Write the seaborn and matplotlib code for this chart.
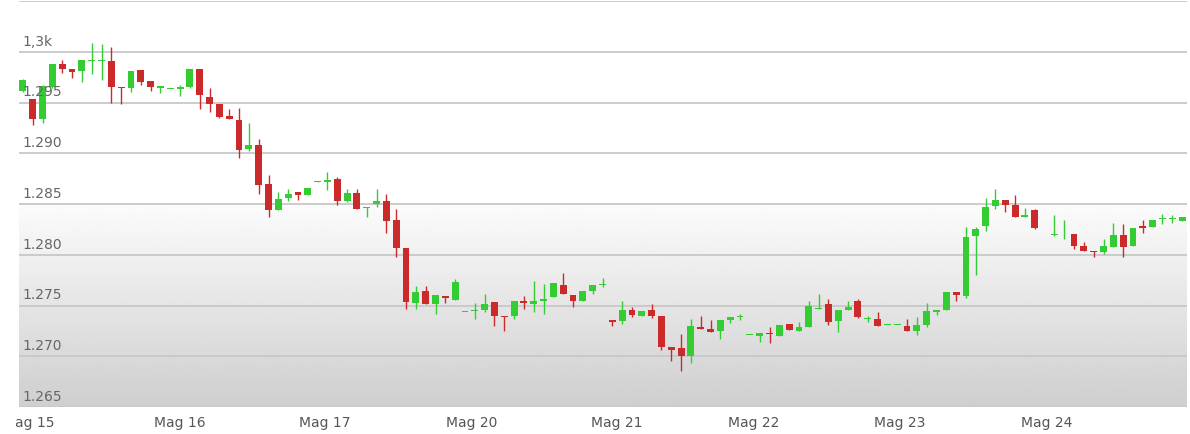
import numpy as np
import pandas as pd
import matplotlib
matplotlib.use("Agg")
import matplotlib.pyplot as plt
import seaborn as sns

# OHLC (candele consecutive)
open_ = [1.2961, 1.2953, 1.2934, 1.2965, 1.2988, 1.2983, 1.2981, 1.2991, 1.2991, 1.2991,
         1.2965, 1.2964, 1.2982, 1.2971, 1.2964, 1.2963, 1.2963, 1.2965, 1.2983, 1.2955,
         1.2949, 1.2937, 1.2933, 1.2904, 1.2908, 1.2870, 1.2844, 1.2856, 1.2862, 1.2859,
         1.2872, 1.2872, 1.2875, 1.2853, 1.2861, 1.2846, 1.2850, 1.2853, 1.2834, 1.2807,
         1.2752, 1.2764, 1.2751, 1.2759, 1.2755, 1.2744, 1.2745, 1.2746, 1.2753, 1.2740,
         1.2740, 1.2754, 1.2751, 1.2754, 1.2758, 1.2770, 1.2760, 1.2754, 1.2764, 1.2770,
         1.2736, 1.2735, 1.2746, 1.2740, 1.2746, 1.2740, 1.2709, 1.2708, 1.2700, 1.2729,
         1.2727, 1.2725, 1.2736, 1.2739, 1.2721, 1.2720, 1.2723, 1.2720, 1.2732, 1.2725,
         1.2729, 1.2747, 1.2751, 1.2735, 1.2746, 1.2754, 1.2737, 1.2737, 1.2731, 1.2731,
         1.2730, 1.2725, 1.2731, 1.2744, 1.2746, 1.2763, 1.2759, 1.2818, 1.2828, 1.2848,
         1.2854, 1.2849, 1.2837, 1.2844, 1.2820, 1.2819, 1.2820, 1.2820, 1.2809, 1.2804,
         1.2803, 1.2808, 1.2819, 1.2809, 1.2828, 1.2827, 1.2835, 1.2835, 1.2833]
close = [1.2972, 1.2934, 1.2966, 1.2988, 1.2983, 1.2980, 1.2992, 1.2991, 1.2992, 1.2965,
         1.2964, 1.2981, 1.2970, 1.2965, 1.2966, 1.2963, 1.2965, 1.2983, 1.2957, 1.2949,
         1.2936, 1.2934, 1.2903, 1.2908, 1.2869, 1.2844, 1.2855, 1.2860, 1.2859, 1.2866,
         1.2873, 1.2874, 1.2853, 1.2861, 1.2845, 1.2847, 1.2853, 1.2833, 1.2807, 1.2753,
         1.2763, 1.2751, 1.2760, 1.2757, 1.2773, 1.2744, 1.2746, 1.2751, 1.2740, 1.2739,
         1.2754, 1.2752, 1.2754, 1.2756, 1.2772, 1.2761, 1.2754, 1.2764, 1.2770, 1.2771,
         1.2734, 1.2746, 1.2741, 1.2745, 1.2740, 1.2709, 1.2706, 1.2700, 1.2730, 1.2727,
         1.2724, 1.2736, 1.2739, 1.2739, 1.2721, 1.2723, 1.2722, 1.2731, 1.2726, 1.2729,
         1.2750, 1.2748, 1.2734, 1.2746, 1.2749, 1.2739, 1.2737, 1.2730, 1.2731, 1.2731,
         1.2725, 1.2731, 1.2745, 1.2746, 1.2763, 1.2760, 1.2817, 1.2825, 1.2847, 1.2854,
         1.2849, 1.2837, 1.2839, 1.2826, 1.2820, 1.2820, 1.2820, 1.2809, 1.2804, 1.2803,
         1.2809, 1.2819, 1.2808, 1.2826, 1.2826, 1.2834, 1.2835, 1.2835, 1.2837]
high = [1.2973, 1.2953, 1.2967, 1.2988, 1.2992, 1.2983, 1.2992, 1.3009, 1.3008, 1.3005,
        1.2965, 1.2981, 1.2982, 1.2971, 1.2966, 1.2963, 1.2967, 1.2983, 1.2983, 1.2964,
        1.2949, 1.2944, 1.2945, 1.2930, 1.2914, 1.2879, 1.2862, 1.2865, 1.2862, 1.2866,
        1.2873, 1.2882, 1.2877, 1.2865, 1.2865, 1.2847, 1.2865, 1.2860, 1.2845, 1.2807,
        1.2769, 1.2769, 1.2760, 1.2759, 1.2776, 1.2744, 1.2752, 1.2761, 1.2753, 1.2740,
        1.2754, 1.2759, 1.2774, 1.2771, 1.2772, 1.2782, 1.2760, 1.2764, 1.2770, 1.2777,
        1.2736, 1.2754, 1.2749, 1.2745, 1.2751, 1.2740, 1.2709, 1.2722, 1.2737, 1.2740,
        1.2736, 1.2736, 1.2739, 1.2742, 1.2721, 1.2723, 1.2729, 1.2731, 1.2732, 1.2734,
        1.2754, 1.2761, 1.2756, 1.2746, 1.2754, 1.2756, 1.2740, 1.2744, 1.2731, 1.2731,
        1.2737, 1.2739, 1.2752, 1.2746, 1.2763, 1.2763, 1.2827, 1.2827, 1.2856, 1.2865,
        1.2854, 1.2859, 1.2846, 1.2845, 1.2820, 1.2839, 1.2834, 1.2820, 1.2813, 1.2804,
        1.2816, 1.2831, 1.2830, 1.2826, 1.2834, 1.2834, 1.2840, 1.2839, 1.2837]
low = [1.2960, 1.2928, 1.2930, 1.2964, 1.2979, 1.2974, 1.2970, 1.2978, 1.2972, 1.2950,
       1.2949, 1.2960, 1.2967, 1.2961, 1.2959, 1.2963, 1.2956, 1.2964, 1.2944, 1.2941,
       1.2935, 1.2934, 1.2895, 1.2902, 1.2860, 1.2837, 1.2844, 1.2853, 1.2854, 1.2859,
       1.2872, 1.2864, 1.2849, 1.2852, 1.2845, 1.2837, 1.2847, 1.2821, 1.2798, 1.2747,
       1.2747, 1.2751, 1.2742, 1.2752, 1.2755, 1.2744, 1.2737, 1.2744, 1.2730, 1.2725,
       1.2737, 1.2747, 1.2744, 1.2742, 1.2758, 1.2761, 1.2749, 1.2754, 1.2761, 1.2768,
       1.2730, 1.2732, 1.2739, 1.2740, 1.2738, 1.2706, 1.2695, 1.2685, 1.2693, 1.2727,
       1.2724, 1.2717, 1.2733, 1.2736, 1.2721, 1.2714, 1.2713, 1.2720, 1.2726, 1.2725,
       1.2729, 1.2747, 1.2731, 1.2724, 1.2746, 1.2738, 1.2734, 1.2730, 1.2731, 1.2731,
       1.2725, 1.2721, 1.2729, 1.2741, 1.2746, 1.2754, 1.2757, 1.2780, 1.2823, 1.2845,
       1.2842, 1.2837, 1.2837, 1.2825, 1.2820, 1.2818, 1.2816, 1.2806, 1.2804, 1.2798,
       1.2801, 1.2808, 1.2798, 1.2809, 1.2821, 1.2827, 1.2830, 1.2831, 1.2833]

day_labels = ["ag 15", "Mag 16", "Mag 17", "Mag 20", "Mag 21", "Mag 22", "Mag 23", "Mag 24"]
day_pos = [1.2, 16.0, 30.7, 45.7, 60.4, 74.4, 89.3, 104.2]
y_ticks = [1.265, 1.270, 1.275, 1.280, 1.285, 1.290, 1.295, 1.300]
y_labels = ["1.265", "1.270", "1.275", "1.280", "1.285", "1.290", "1.295", "1,3k"]

df = pd.DataFrame({"open": open_, "close": close, "high": high, "low": low})
df["x"] = np.arange(len(df))
df["up"] = df["close"] >= df["open"]

sns.set_theme(style="white")
fig = plt.figure(figsize=(11.9, 4.35), dpi=100)
ax = fig.add_axes([19 / 1190, 1 - 408 / 435, 1168 / 1190, 406 / 435])
x0, x1 = -0.4, 118.5
y0, y1 = 1.265, 1.305

# sfondo sfumato sotto 1.285
grad = np.linspace(0.81, 0.985, 200).reshape(-1, 1)
ax.imshow(grad, extent=[x0, x1, y0, 1.285], origin="lower", cmap="gray",
          vmin=0, vmax=1, aspect="auto", zorder=0)

for t in y_ticks + [1.305]:
    ax.axhline(t, color="#c8c8c8", lw=1.3, zorder=1)

green, red = "#33cc33", "#cc2a2a"
colors = np.where(df["up"], green, red)
ax.vlines(df["x"], df["low"], df["high"], colors=colors, lw=1, zorder=2)
body = (df["close"] - df["open"]).abs().clip(lower=0.00008)
bottom = df[["open", "close"]].min(axis=1)
ax.bar(df["x"], body, bottom=bottom, width=0.7, color=colors, lw=0, zorder=3)

for t, lab in zip(y_ticks, y_labels):
    ax.text(0.0, t + 0.0004, lab, color="#666666", fontsize=10, va="bottom",
            ha="left", zorder=4)

ax.set_xlim(x0, x1)
ax.set_ylim(y0, y1)
ax.set_yticks([])
ax.set_xticks(day_pos)
ax.set_xticklabels(day_labels, color="#555555", fontsize=10)
ax.tick_params(axis="x", length=0, pad=6)
for s in ax.spines.values():
    s.set_visible(False)

fig.savefig("out.png", dpi=100)
